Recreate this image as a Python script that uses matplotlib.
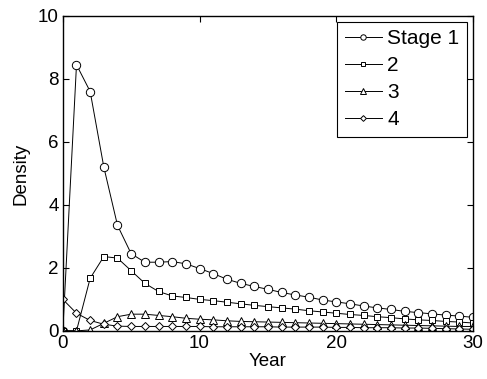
import numpy as np
import matplotlib
matplotlib.use("Agg")
import matplotlib.pyplot as plt

plt.rcParams["font.family"] = ["Liberation Sans", "DejaVu Sans"]

years = np.arange(0, 31)
stage1 = [0.0, 8.45, 7.6, 5.2, 3.35, 2.45, 2.18, 2.18, 2.2, 2.13, 1.98,
          1.82, 1.64, 1.51, 1.41, 1.32, 1.22, 1.14, 1.07, 0.98, 0.92,
          0.86, 0.79, 0.73, 0.68, 0.62, 0.58, 0.54, 0.50, 0.47, 0.43]
stage2 = [0.0, 0.0, 1.67, 2.36, 2.31, 1.91, 1.51, 1.25, 1.11, 1.06, 1.0,
          0.96, 0.91, 0.86, 0.81, 0.77, 0.73, 0.69, 0.64, 0.60, 0.56,
          0.52, 0.49, 0.45, 0.42, 0.38, 0.35, 0.33, 0.30, 0.28, 0.25]
stage3 = [0.0, 0.0, 0.03, 0.24, 0.45, 0.53, 0.53, 0.49, 0.45, 0.40, 0.37,
          0.35, 0.32, 0.30, 0.29, 0.28, 0.27, 0.26, 0.25, 0.24, 0.23,
          0.22, 0.21, 0.20, 0.19, 0.18, 0.17, 0.16, 0.15, 0.14, 0.14]
stage4 = [1.0, 0.56, 0.33, 0.21, 0.15, 0.14, 0.14, 0.14, 0.14, 0.14, 0.14,
          0.13, 0.13, 0.13, 0.13, 0.13, 0.12, 0.12, 0.12, 0.12, 0.11,
          0.11, 0.10, 0.10, 0.10, 0.09, 0.09, 0.08, 0.07, 0.06, 0.05]
labels = ["Stage 1", "2", "3", "4"]
markers = ["o", "s", "^", "D"]
sizes = [6, 4.5, 6, 4.5]

fig = plt.figure(figsize=(4.87, 3.79), dpi=100)
ax = fig.add_axes([0.129, 0.127, 0.842, 0.831])

for ys, m, ms, lab in zip([stage1, stage2, stage3, stage4], markers, sizes, labels):
    ax.plot(years, ys, marker=m, ms=ms, mfc="white", mec="black", mew=0.7,
            color="black", lw=0.7, label=lab)

ax.set_xlim(0, 30)
ax.set_ylim(0, 10)
ax.set_xticks([0, 10, 20, 30])
ax.set_yticks([0, 2, 4, 6, 8, 10])
ax.tick_params(direction="in", top=True, right=True, labelsize=13.5, length=4,
               pad=3)
for s in ax.spines.values():
    s.set_linewidth(1.0)
ax.set_xlabel("Year", fontsize=13.5, labelpad=1)
ax.set_ylabel("Density", fontsize=13.5, labelpad=6)

leg = ax.legend(loc="upper right", fontsize=15, fancybox=False, framealpha=1,
                edgecolor="black", borderpad=0.35, handlelength=1.8,
                labelspacing=0.38, handletextpad=0.25, borderaxespad=0.3,
                markerscale=0.65)
leg.get_frame().set_linewidth(0.8)

fig.savefig("out.png", dpi=100)
